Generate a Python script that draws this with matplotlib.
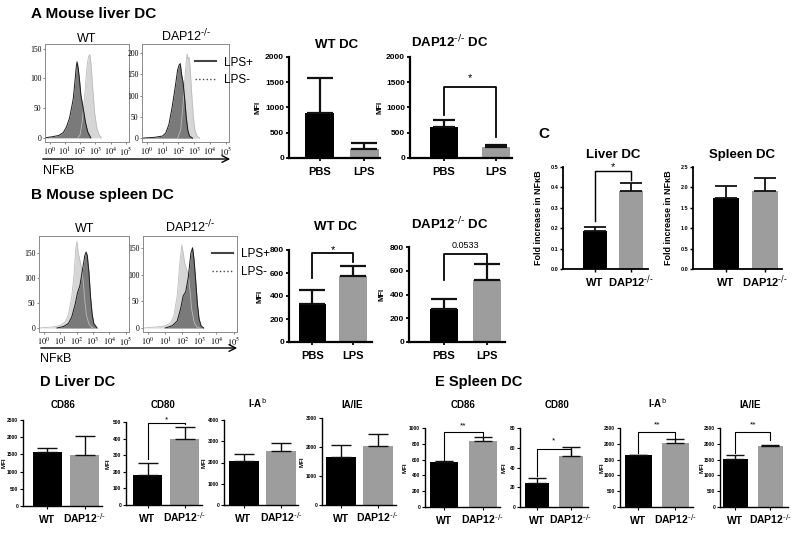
import numpy as np
import matplotlib.pyplot as plt
from matplotlib.lines import Line2D
from matplotlib.patches import FancyArrowPatch

plt.rcParams['font.family'] = ['Liberation Sans', 'DejaVu Sans']

# ---- flow histograms (log10 intensity, cell count) ----
liver_wt_pos_x = [-0.3, 0.2, 0.6, 0.9, 1.1, 1.3, 1.45, 1.55, 1.65, 1.75, 1.8, 1.87, 1.95, 2.05, 2.2, 2.35, 2.5, 2.7]
liver_wt_pos_y = [0, 2, 4, 9, 18, 33, 52, 66, 92, 120, 128, 118, 100, 72, 50, 26, 10, 0]
liver_wt_neg_x = [1.85, 2.0, 2.15, 2.3, 2.45, 2.55, 2.64, 2.72, 2.84, 2.95, 3.1, 3.25, 3.4]
liver_wt_neg_y = [0, 5, 30, 72, 120, 137, 140, 122, 78, 42, 16, 5, 0]

liver_ko_pos_x = [-0.3, 0.5, 1.0, 1.2, 1.4, 1.6, 1.8, 1.95, 2.05, 2.12, 2.2, 2.3, 2.4, 2.5, 2.6, 2.7, 2.9]
liver_ko_pos_y = [0, 2, 5, 12, 32, 72, 120, 160, 172, 175, 150, 130, 92, 48, 18, 5, 0]
liver_ko_neg_x = [1.95, 2.15, 2.3, 2.45, 2.55, 2.62, 2.68, 2.75, 2.85, 2.95, 3.05, 3.2, 3.35]
liver_ko_neg_y = [0, 20, 80, 160, 198, 185, 190, 160, 100, 48, 18, 4, 0]

spleen_wt_neg_x = [-0.3, 0.5, 1.0, 1.3, 1.5, 1.7, 1.85, 1.95, 2.02, 2.1, 2.2, 2.3, 2.4, 2.5, 2.6, 2.75, 2.9, 3.0]
spleen_wt_neg_y = [0, 2, 5, 12, 27, 62, 110, 160, 173, 150, 135, 120, 95, 55, 25, 8, 2, 0]
spleen_wt_pos_x = [0.8, 1.2, 1.5, 1.7, 1.9, 2.05, 2.2, 2.35, 2.5, 2.58, 2.65, 2.75, 2.85, 2.95, 3.05, 3.25]
spleen_wt_pos_y = [0, 3, 9, 22, 46, 70, 85, 115, 145, 152, 145, 112, 62, 27, 9, 0]

spleen_ko_neg_x = [-0.3, 0.5, 1.0, 1.3, 1.5, 1.7, 1.85, 1.97, 2.05, 2.15, 2.25, 2.35, 2.45, 2.55, 2.7, 2.85, 3.0]
spleen_ko_neg_y = [0, 2, 4, 9, 22, 60, 120, 155, 140, 120, 110, 100, 70, 35, 10, 2, 0]
spleen_ko_pos_x = [1.0, 1.4, 1.7, 1.9, 2.05, 2.2, 2.35, 2.5, 2.6, 2.68, 2.78, 2.88, 2.98, 3.1, 3.25]
spleen_ko_pos_y = [0, 4, 13, 36, 60, 68, 95, 140, 150, 130, 90, 46, 17, 4, 0]

# ---- MFI bar data: [mean], [top of error bar] ----
KO = r'DAP12$^{\text{-/-}}$'
groups_ab = ['PBS', 'LPS']
groups = ['WT', KO]

liver_wt_mfi = [900, 170]
liver_wt_err = [1580, 300]
liver_ko_mfi = [610, 220]
liver_ko_err = [760, 255]

spleen_wt_mfi = [330, 570]
spleen_wt_err = [455, 660]
spleen_ko_mfi = [280, 525]
spleen_ko_err = [365, 655]

fold_liver = [0.185, 0.383]
fold_liver_err = [0.205, 0.42]
fold_spleen = [1.75, 1.9]
fold_spleen_err = [2.03, 2.22]

markers = ['CD86', 'CD80', r'I-A$^{\text{b}}$', 'IA/IE']
d_mfi = [[1560, 1470], [180, 400], [2050, 2560], [1650, 2030]]
d_err = [[1700, 2030], [255, 470], [2400, 2900], [2070, 2460]]
e_mfi = [[570, 830], [24, 52], [1640, 2040], [1520, 1940]]
e_err = [[580, 880], [29, 61], [1650, 2150], [1640, 1950]]

W, H = 800, 533
fig = plt.figure(figsize=(8, 5.33), dpi=100)


def px_axes(l, t, r, b):
    return fig.add_axes([l / W, 1 - b / H, (r - l) / W, (b - t) / H])


def ptext(x, y, s, fs, **kw):
    # y is the visual middle of the capitals; place by baseline
    kw.setdefault('ha', 'center')
    fig.text(x / W, 1 - (y + 0.5 * fs) / H, s, fontsize=fs, va='baseline',
             math_fontfamily='dejavusans', **kw)


def histo(rect, ylim, yticks, neg, pos, legend_at=None):
    ax = px_axes(*rect)
    ax.fill_between(neg[0], neg[1], color='#d6d6d6', lw=0)
    ax.plot(neg[0], neg[1], color='#bcbcbc', lw=0.6)
    ax.fill_between(pos[0], pos[1], color='#7a7a7a', lw=0)
    ax.plot(pos[0], pos[1], color='#1a1a1a', lw=0.7)
    ax.set_xlim(-0.3, 5.2)
    ax.set_ylim(*ylim)
    ax.set_xticks(range(6))
    ax.set_xticklabels([rf'$10^{i}$' for i in range(6)], math_fontfamily='stix', fontsize=6)
    ax.set_yticks(yticks)
    ax.set_yticklabels([str(v) for v in yticks], family='Liberation Serif', fontsize=5.5)
    ax.tick_params(length=1.5, width=0.5, pad=1, color='#555555')
    for s in ax.spines.values():
        s.set_color('#8a8a8a')
        s.set_linewidth(0.7)
    if legend_at:
        h = [Line2D([], [], color='#444444', lw=1.5, ls='-'),
             Line2D([], [], color='#444444', lw=1.0, ls=':')]
        ax.legend(h, ['LPS+', 'LPS-'], frameon=False, fontsize=8.5, loc='upper left',
                  bbox_to_anchor=legend_at, handlelength=1.8, labelspacing=0.5,
                  handletextpad=0.7, borderaxespad=0)
    return ax


def bar_panel(rect, xlim, width, vals, errs, ylim, yticks, labels, ylabel_x,
              tick_fs, lab_fs, spine_w, bracket=None, sig='*', sig_fs=8,
              ylabel='MFI', ylab_fs=5.5):
    ax = px_axes(*rect)
    up = [e - v for e, v in zip(errs, vals)]
    ax.bar([0, 1], vals, width=width, color=['black', '#9d9d9d'],
           yerr=[[0, 0], up], capsize=width * 9 * spine_w,
           error_kw=dict(lw=spine_w, capthick=spine_w, ecolor='#111111'))
    ax.set_xlim(*xlim)
    ax.set_ylim(*ylim)
    ax.set_xticks([0, 1])
    ax.set_xticklabels(labels, fontsize=lab_fs, fontweight='bold', va='baseline',
                       math_fontfamily='dejavusans')
    ax.set_yticks(yticks)
    ax.tick_params(axis='y', labelsize=tick_fs, length=2.5, width=spine_w * 0.8, pad=1)
    ax.tick_params(axis='x', length=2.5, width=spine_w * 0.8, pad=4 + 0.75 * lab_fs)
    for lab in ax.get_yticklabels():
        lab.set_fontweight('bold')
    for side in ['top', 'right']:
        ax.spines[side].set_visible(False)
    for side in ['left', 'bottom']:
        ax.spines[side].set_linewidth(spine_w)
    ax.set_ylabel(ylabel, fontsize=ylab_fs, fontweight='bold')
    l, t, r, b = rect
    ax.yaxis.set_label_coords(-(l - ylabel_x) / (r - l), 0.5)
    if bracket:
        lb, top, rb, sy = bracket
        ax.plot([0, 0, 1, 1], [lb, top, top, rb], color='black', lw=spine_w * 0.8, clip_on=False)
        ax.text(0.5, sy, sig, ha='center', va='center', fontsize=sig_fs, clip_on=False)
    return ax


# ---- panel A ----
ptext(31, 12, 'A Mouse liver DC', 11, ha='left', fontweight='bold')
histo((45, 44, 129, 142), (-7, 158), [0, 50, 100, 150],
      (liver_wt_neg_x, liver_wt_neg_y), (liver_wt_pos_x, liver_wt_pos_y))
histo((142, 44, 229, 142), (-9, 221), [0, 50, 100, 150, 200],
      (liver_ko_neg_x, liver_ko_neg_y), (liver_ko_pos_x, liver_ko_pos_y),
      legend_at=(0.55, 0.92))
ptext(87, 37, 'WT', 9)
ptext(186, 37, KO, 9)
fig.add_artist(FancyArrowPatch((40 / W, 1 - 159 / H), (233 / W, 1 - 159 / H),
                               transform=fig.transFigure, arrowstyle='->',
                               mutation_scale=12, lw=1, color='black'))
ptext(43, 169, 'NFκB', 9, ha='left')

bar_panel((289, 57, 380, 158), (-0.7, 1.36), 0.66, liver_wt_mfi, liver_wt_err,
          (0, 2000), [0, 500, 1000, 1500, 2000], groups_ab, 262, 6, 8, 1.6)
bar_panel((410, 57, 512, 158), (-0.65, 1.31), 0.55, liver_ko_mfi, liver_ko_err,
          (0, 2000), [0, 500, 1000, 1500, 2000], groups_ab, 384, 6, 8, 1.6,
          bracket=(850, 1400, 420, 1580))
ptext(337, 43, 'WT DC', 9.5, fontweight='bold')
ptext(450, 43, KO + ' DC', 9.5, fontweight='bold')

# ---- panel B ----
ptext(31, 194, 'B Mouse spleen DC', 11, ha='left', fontweight='bold')
histo((39, 236, 129, 332), (-8, 184), [0, 50, 100, 150],
      (spleen_wt_neg_x, spleen_wt_neg_y), (spleen_wt_pos_x, spleen_wt_pos_y))
histo((143, 236, 237, 332), (-7.5, 172), [0, 50, 100, 150],
      (spleen_ko_neg_x, spleen_ko_neg_y), (spleen_ko_pos_x, spleen_ko_pos_y),
      legend_at=(0.68, 0.92))
ptext(85, 228, 'WT', 9)
ptext(190, 228, KO, 9)
fig.add_artist(FancyArrowPatch((38 / W, 1 - 348 / H), (240 / W, 1 - 348 / H),
                               transform=fig.transFigure, arrowstyle='->',
                               mutation_scale=12, lw=1, color='black'))
ptext(40, 357, 'NFκB', 9, ha='left')

bar_panel((289, 250, 372, 342), (-0.58, 1.47), 0.67, spleen_wt_mfi, spleen_wt_err,
          (0, 800), [0, 200, 400, 600, 800], groups_ab, 264, 6, 8, 1.6,
          bracket=(556, 770, 696, 800))
bar_panel((409, 247, 505, 342), (-0.82, 1.43), 0.66, spleen_ko_mfi, spleen_ko_err,
          (0, 800), [0, 200, 400, 600, 800], groups_ab, 386, 6, 8, 1.6,
          bracket=(518, 745, 668, 810), sig='0.0533', sig_fs=6.5)
ptext(336, 225, 'WT DC', 9.5, fontweight='bold')
ptext(450, 225, KO + ' DC', 9.5, fontweight='bold')

# ---- panel C ----
ptext(538, 133, 'C', 11, ha='left', fontweight='bold')
bar_panel((563, 167, 648, 269), (-0.89, 1.47), 0.67, fold_liver, fold_liver_err,
          (0, 0.5), [0.0, 0.1, 0.2, 0.3, 0.4, 0.5], groups, 543, 4, 8, 1.3,
          bracket=(0.234, 0.482, 0.435, 0.5), ylabel='Fold increase in NFκB', ylab_fs=6.5)
bar_panel((693, 167, 782, 269), (-0.85, 1.44), 0.67, fold_spleen, fold_spleen_err,
          (0, 2.5), [0.0, 0.5, 1.0, 1.5, 2.0, 2.5], groups, 673, 4, 8, 1.3,
          ylabel='Fold increase in NFκB', ylab_fs=6.5)
ptext(613, 153, 'Liver DC', 9.5, fontweight='bold')
ptext(742, 153, 'Spleen DC', 9.5, fontweight='bold')

# ---- panel D ----
ptext(40, 381, 'D Liver DC', 10.5, ha='left', fontweight='bold')
d_rects = [(23, 420, 102, 506), (126, 422, 202, 505), (224, 420, 298, 505), (322, 418, 396, 505)]
d_xlims = [(-0.66, 1.47), (-0.58, 1.47), (-0.52, 1.45), (-0.51, 1.49)]
d_ylims = [2500, 500, 4000, 3000]
d_steps = [500, 100, 1000, 1000]
d_ylab = [7, 111, 207, 305]
d_titles_x = [63, 163, 257, 352]
for i in range(4):
    br = (275, 495, 485, 512) if i == 1 else None
    bar_panel(d_rects[i], d_xlims[i], 0.8, d_mfi[i], d_err[i], (0, d_ylims[i]),
              np.arange(0, d_ylims[i] + 1, d_steps[i]), groups, d_ylab[i], 3.5, 7.5, 1.0,
              bracket=br, sig_fs=6, ylab_fs=4.5)
    ptext(d_titles_x[i], 405, markers[i], 7, fontweight='bold')

# ---- panel E ----
ptext(435, 381, 'E Spleen DC', 10.5, ha='left', fontweight='bold')
e_rects = [(425, 428, 500, 507), (520, 428, 588, 507), (620, 428, 693, 507), (720, 428, 788, 507)]
e_xlims = [(-0.49, 1.45), (-0.51, 1.52), (-0.5, 1.48), (-0.44, 1.5)]
e_ylims = [1000, 80, 2500, 2500]
e_steps = [200, 20, 500, 500]
e_ylab = [408, 507, 605, 705]
e_titles_x = [463, 557, 657, 750]
e_brackets = [(595, 950, 895, 1030), (31, 58.5, 53, 67), (1723, 2372, 2160, 2600), (1700, 2372, 2130, 2600)]
e_sigs = ['**', '*', '**', '**']
for i in range(4):
    bar_panel(e_rects[i], e_xlims[i], 0.72, e_mfi[i], e_err[i], (0, e_ylims[i]),
              np.arange(0, e_ylims[i] + 1, e_steps[i]), groups, e_ylab[i], 3.5, 7.5, 1.0,
              bracket=e_brackets[i], sig=e_sigs[i], sig_fs=6, ylab_fs=4.5)
    ptext(e_titles_x[i], 405, markers[i], 7, fontweight='bold')

fig.savefig('out.png', dpi=100)
